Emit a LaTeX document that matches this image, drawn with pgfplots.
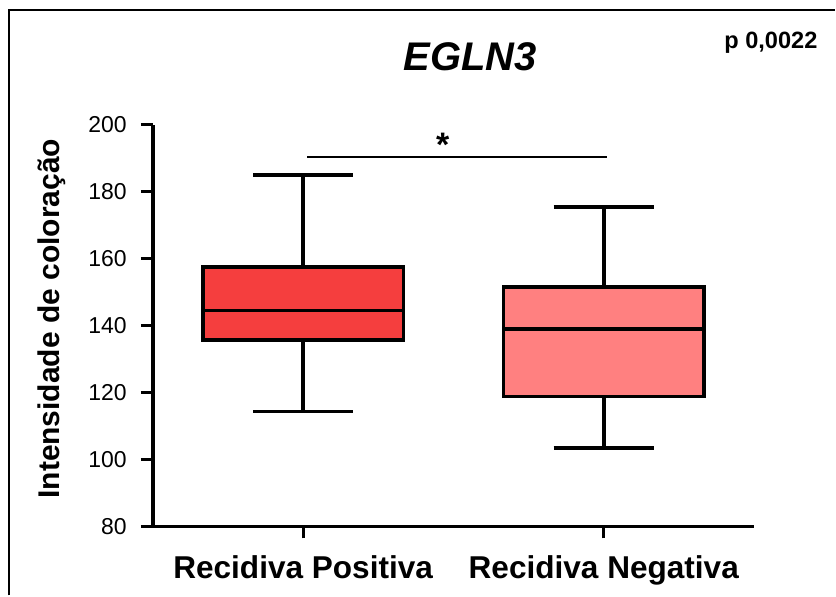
\documentclass[border=0pt]{standalone}
\usepackage{fontspec}
\setmainfont{Liberation Sans}
\usepackage{pgfplots}
\pgfplotsset{compat=1.18}
\definecolor{boxA}{RGB}{245,62,62}
\definecolor{boxB}{RGB}{255,128,128}
\begin{document}
\begin{tikzpicture}
\begin{axis}[
  scale only axis,
  width=301pt, height=201pt,
  xmin=0.5, xmax=2.5, ymin=80, ymax=200,
  axis x line*=bottom, axis y line*=left,
  axis line style={line width=1.8pt, black},
  xtick={1,2}, xticklabels={Recidiva Positiva, Recidiva Negativa},
  ytick={80,100,...,200},
  tick align=outside, major tick length=6pt,
  tick style={line width=1.4pt, black},
  /pgf/number format/assume math mode=true,
  yticklabel style={font=\fontsize{11.5}{13}\selectfont, xshift=-3.5pt},
  xticklabel style={font=\fontsize{15.8}{18}\selectfont\bfseries, yshift=-5pt},
  every axis y label/.style={at={(axis description cs:-0.1678,0.517)}, rotate=90, anchor=center},
  ylabel={\fontsize{15}{17}\selectfont\bfseries Intensidade de coloração},
  clip=false,
]
% Recidiva Positiva: lw 114.3, q1 135.8, med 144.5, q3 157.6, uw 185
\addplot[black, line width=1.9pt] coordinates {(1,157.6) (1,185)};
\addplot[black, line width=1.9pt] coordinates {(0.8335,185) (1.1665,185)};
\addplot[black, line width=1.9pt] coordinates {(1,135.8) (1,114.3)};
\addplot[black, line width=1.9pt] coordinates {(0.8335,114.3) (1.1665,114.3)};
\addplot[draw=black, fill=boxA, line width=1.9pt] coordinates {(0.6665,135.8) (1.3335,135.8) (1.3335,157.6) (0.6665,157.6)} -- cycle;
\addplot[black, line width=1.9pt] coordinates {(0.6665,144.5) (1.3335,144.5)};
% Recidiva Negativa: lw 103.3, q1 118.8, med 139.1, q3 151.6, uw 175.5
\addplot[black, line width=1.9pt] coordinates {(2,151.6) (2,175.5)};
\addplot[black, line width=1.9pt] coordinates {(1.8335,175.5) (2.1665,175.5)};
\addplot[black, line width=1.9pt] coordinates {(2,118.8) (2,103.3)};
\addplot[black, line width=1.9pt] coordinates {(1.8335,103.3) (2.1665,103.3)};
\addplot[draw=black, fill=boxB, line width=1.9pt] coordinates {(1.6665,118.8) (2.3335,118.8) (2.3335,151.6) (1.6665,151.6)} -- cycle;
\addplot[black, line width=1.9pt] coordinates {(1.6665,139.1) (2.3335,139.1)};
% significance bar
\addplot[black, line width=1.1pt] coordinates {(1.013,190.4) (2.01,190.4)};
\node[font=\fontsize{17}{18}\selectfont\bfseries] at (axis cs:1.464,194.0) {*};
\node[font=\fontsize{20}{23}\selectfont\bfseries\itshape] at (axis description cs:0.528,1.169) {EGLN3};
\node[font=\fontsize{11.8}{13}\selectfont\bfseries] at (axis description cs:1.028,1.204) {p 0,0022};
\end{axis}
\draw[line width=1pt] (-72pt,-34.5pt) -- (-72pt,258.5pt) -- (341.5pt,258.5pt);
\useasboundingbox (-76.5pt,-34.5pt) rectangle (341.5pt,263.5pt);
\end{tikzpicture}
\end{document}
